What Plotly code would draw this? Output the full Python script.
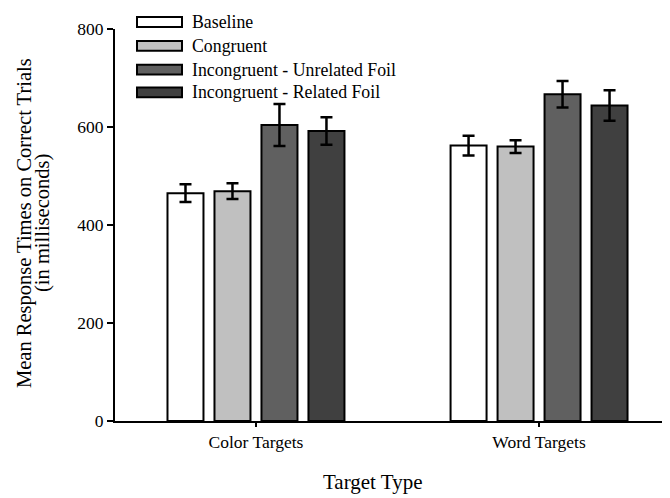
import plotly.graph_objects as go

categories = ["Color Targets", "Word Targets"]
series_names = ["Baseline", "Congruent", "Incongruent - Unrelated Foil", "Incongruent - Related Foil"]
baseline = [465, 562]
congruent = [469, 560]
unrelated = [604, 667]
related = [592, 644]
baseline_err = [18, 20]
congruent_err = [16, 13]
unrelated_err = [43, 27]
related_err = [28, 31]
y_ticks = [0, 200, 400, 600, 800]

colors = ["#ffffff", "#c0c0c0", "#606060", "#404040"]
values = [baseline, congruent, unrelated, related]
errors = [baseline_err, congruent_err, unrelated_err, related_err]

FONT = "Liberation Serif"

# plot area in screen pixels (page has an 8px body offset)
PL, PT, PW, PH = 115, 25, 552, 396


def px(x):
    return (x - PL) / PW


def py(y):
    return 1 - (y - PT) / PH


fig = go.Figure()
for name, vals, errs, col in zip(series_names, values, errors, colors):
    fig.add_trace(go.Bar(
        x=[0, 1], y=vals, name=name,
        marker=dict(color=col, line=dict(color="black", width=2)),
        error_y=dict(type="data", array=errs, visible=True, color="black", thickness=2.5, width=6),
        showlegend=False,
    ))

# custom legend (wide rectangle swatches)
legend_rows_y = [18, 42, 66, 89]
for name, col, yy in zip(series_names, colors, legend_rows_y):
    fig.add_shape(type="rect", xref="paper", yref="paper",
                  x0=px(137), x1=px(182), y0=py(yy + 5), y1=py(yy - 5),
                  line=dict(color="black", width=2), fillcolor=col)
    fig.add_annotation(xref="paper", yref="paper", x=px(190), y=py(yy),
                       text=name, showarrow=False, xanchor="left", yanchor="middle",
                       font=dict(family=FONT, size=17.8, color="black"))

# axis titles
fig.add_annotation(xref="paper", yref="paper", x=px(24), y=py(221),
                   text="Mean Response Times on Correct Trials", textangle=-90,
                   showarrow=False, xanchor="center", yanchor="middle",
                   font=dict(family=FONT, size=20.5, color="black"))
fig.add_annotation(xref="paper", yref="paper", x=px(42), y=py(221),
                   text="(in milliseconds)", textangle=-90,
                   showarrow=False, xanchor="center", yanchor="middle",
                   font=dict(family=FONT, size=20.5, color="black"))
fig.add_annotation(xref="paper", yref="paper", x=px(373), y=py(483),
                   text="Target Type",
                   showarrow=False, xanchor="center", yanchor="middle",
                   font=dict(family=FONT, size=21, color="black"))

fig.update_layout(
    width=670, height=498,
    margin=dict(l=107, r=11, t=17, b=85),
    plot_bgcolor="white", paper_bgcolor="white",
    barmode="group", bargap=0.336, bargroupgap=0.234,
    font=dict(family=FONT, size=17.5, color="black"),
    xaxis=dict(
        range=[-0.498, 1.452], tickvals=[0, 1], ticktext=categories,
        showline=True, linecolor="black", linewidth=2,
        ticks="outside", ticklen=4, tickwidth=2, tickcolor="black",
        showgrid=False, zeroline=False,
        tickfont=dict(family=FONT, size=17.5),
    ),
    yaxis=dict(
        range=[0, 800], tickvals=y_ticks,
        showline=True, linecolor="black", linewidth=2,
        ticks="outside", ticklen=6, tickwidth=2, tickcolor="black",
        showgrid=False, zeroline=False,
        tickfont=dict(family=FONT, size=17.5),
    ),
)

fig.write_html("out.html")
